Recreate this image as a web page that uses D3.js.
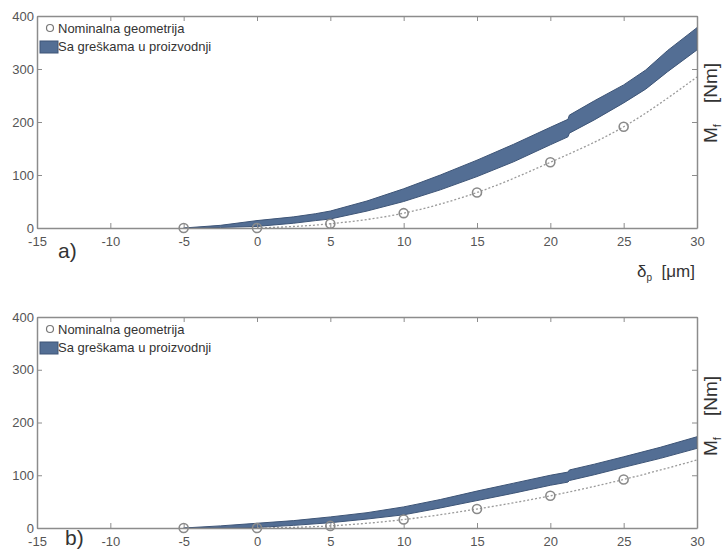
<!DOCTYPE html>
<html>
<head>
  <meta charset="utf-8" />
  <style>
    body { margin: 0; background: #fff; }
    text { font-family: "Liberation Sans", Arial, sans-serif; }
  </style>
</head>
<body>
  <svg id="container" width="723" height="550"></svg>
  <script src="https://cdn.jsdelivr.net/npm/d3@7/dist/d3.min.js"></script>
<script>
// x values of the nominal markers
var nominalX = [-5, 0, 5, 10, 15, 20, 25, 30];
var nominalA = [0, 0, 8, 28, 67, 124, 191, 285];
var nominalB = [0, 0, 4, 16, 36, 61, 92, 129];
// marker shown at every nominal point except the last (line end)
var markerCount = 7;

// band (manufacturing errors) edges
var bandXA = [-5, -2.5, 0, 2.5, 4, 5, 7.5, 10, 12.5, 15, 17.5, 20, 21.2, 21.3, 23, 25, 26.5, 28, 30];
var bandUpA = [0, 5, 14, 21, 27, 32, 51, 74, 100, 128, 158, 190, 205, 213, 240, 270, 298, 335, 378];
var bandLoA = [0, 1, 3, 9, 14, 17, 32, 50, 72, 97, 125, 157, 172, 179, 204, 236, 262, 295, 336];

var bandXB = [-5, -2.5, 0, 2.5, 5, 7.5, 10, 12.5, 15, 17.5, 20, 21.2, 21.3, 23, 25, 27.5, 30];
var bandUpB = [0, 4, 9, 14, 21, 29, 40, 54, 70, 85, 100, 106, 110, 121, 135, 153, 173];
var bandLoB = [0, 0, 1, 5, 10, 17, 25, 38, 52, 66, 81, 87, 90, 101, 115, 132, 151];

var xTicks = [-15, -10, -5, 0, 5, 10, 15, 20, 25, 30];
var yTicks = [0, 100, 200, 300, 400];
var legendLabels = ['Nominalna geometrija', 'Sa greškama u proizvodnji'];

var svg = d3.select('#container');

var x = d3.scaleLinear().domain([-15, 30]).range([37, 697]);
var fmt = function (d) { return String(d); }; // plain hyphen minus

function panel(top, bottom, nomY, bX, bUp, bLo, tagText, tagX, tagY, labelCenter, showX) {
  var y = d3.scaleLinear().domain([0, 400]).range([bottom, top]);
  var g = svg.append('g');

  // band
  var band = bX.map(function (d, i) { return {x: d, lo: bLo[i], hi: bUp[i]}; });
  var area = d3.area()
    .x(function (d) { return x(d.x); })
    .y0(function (d) { return y(d.lo); })
    .y1(function (d) { return y(d.hi); });
  g.append('path').datum(band)
    .attr('d', area)
    .attr('fill', '#536e94')
    .attr('stroke', '#3e5577')
    .attr('stroke-width', 1);

  // nominal dotted line
  var nom = nominalX.map(function (d, i) { return {x: d, y: nomY[i]}; });
  var line = d3.line()
    .x(function (d) { return x(d.x); })
    .y(function (d) { return y(d.y); })
    .curve(d3.curveMonotoneX);
  g.append('path').datum(nom.slice(1))
    .attr('d', line)
    .attr('fill', 'none')
    .attr('stroke', '#9a9a9a')
    .attr('stroke-width', 1.3)
    .attr('stroke-dasharray', '2,2');

  g.selectAll('circle.nom').data(nom.slice(0, markerCount)).enter()
    .append('circle')
    .attr('cx', function (d) { return x(d.x); })
    .attr('cy', function (d) { return y(d.y); })
    .attr('r', 4.5)
    .attr('fill', 'none')
    .attr('stroke', '#8a8a8a')
    .attr('stroke-width', 1.6);

  // axes box with inward ticks
  var tickLen = 5;
  var axCol = '#8c8c8c';
  g.append('g').attr('transform', 'translate(0,' + bottom + ')')
    .call(d3.axisBottom(x).tickValues(xTicks).tickFormat(fmt).tickSize(-tickLen).tickSizeOuter(0).tickPadding(9))
    .call(function (a) {
      a.select('.domain').attr('stroke', axCol).attr('stroke-width', 1.5);
      a.selectAll('.tick line').attr('stroke', axCol);
      a.selectAll('.tick text').attr('fill', '#555').attr('font-size', 13)
        .attr('font-family', '"Liberation Sans", Arial, sans-serif');
    });
  g.append('g').attr('transform', 'translate(0,' + top + ')')
    .call(d3.axisTop(x).tickValues(xTicks).tickSize(-tickLen).tickSizeOuter(0).tickFormat(''))
    .call(function (a) {
      a.select('.domain').attr('stroke', axCol).attr('stroke-width', 1.5);
      a.selectAll('.tick line').attr('stroke', axCol);
    });
  g.append('g').attr('transform', 'translate(37,0)')
    .call(d3.axisLeft(y).tickValues(yTicks).tickFormat(fmt).tickSize(-tickLen).tickSizeOuter(0).tickPadding(3))
    .call(function (a) {
      a.select('.domain').attr('stroke', axCol).attr('stroke-width', 1.5);
      a.selectAll('.tick line').attr('stroke', axCol);
      a.selectAll('.tick text').attr('fill', '#555').attr('font-size', 13)
        .attr('font-family', '"Liberation Sans", Arial, sans-serif');
    });
  g.append('g').attr('transform', 'translate(697,0)')
    .call(d3.axisRight(y).tickValues(yTicks).tickSize(-tickLen).tickSizeOuter(0).tickFormat(''))
    .call(function (a) {
      a.select('.domain').attr('stroke', axCol).attr('stroke-width', 1.5);
      a.selectAll('.tick line').attr('stroke', axCol);
    });

  // legend
  g.append('circle')
    .attr('cx', 50).attr('cy', top + 12).attr('r', 3.5)
    .attr('fill', 'none').attr('stroke', '#777').attr('stroke-width', 1.2);
  g.append('text').attr('x', 58).attr('y', top + 17)
    .attr('font-size', 13).attr('fill', '#333').text(legendLabels[0]);
  g.append('rect')
    .attr('x', 40).attr('y', top + 25).attr('width', 18).attr('height', 12)
    .attr('fill', '#536e94').attr('stroke', '#3e5577');
  g.append('text').attr('x', 58).attr('y', top + 35)
    .attr('font-size', 13).attr('fill', '#333').text(legendLabels[1]);

  // panel tag
  g.append('text').attr('x', tagX).attr('y', tagY)
    .attr('font-size', 21).attr('fill', '#333').text(tagText);

  // y label
  var yl = g.append('text')
    .attr('transform', 'translate(717,' + labelCenter + ') rotate(-90)')
    .attr('text-anchor', 'middle')
    .attr('font-size', 19).attr('fill', '#333');
  yl.append('tspan').text('M');
  yl.append('tspan').attr('font-size', 11).attr('dy', 4).text('f');
  yl.append('tspan').attr('dy', -4).text('\u00a0\u00a0\u00a0\u00a0[Nm]');

  if (showX) {
    var xl = g.append('text')
      .attr('x', 695).attr('y', bottom + 49)
      .attr('text-anchor', 'end')
      .attr('font-size', 17).attr('fill', '#333');
    xl.append('tspan').text('\u03b4');
    xl.append('tspan').attr('font-size', 10).attr('dy', 4).text('p');
    xl.append('tspan').attr('dy', -4).text('\u00a0\u00a0[\u03bcm]');
  }
}

panel(16, 228, nominalA, bandXA, bandUpA, bandLoA, 'a)', 58, 258, 103, true);
panel(317, 528, nominalB, bandXB, bandUpB, bandLoB, 'b)', 65, 545, 416, false);
</script>
</body>
</html>
